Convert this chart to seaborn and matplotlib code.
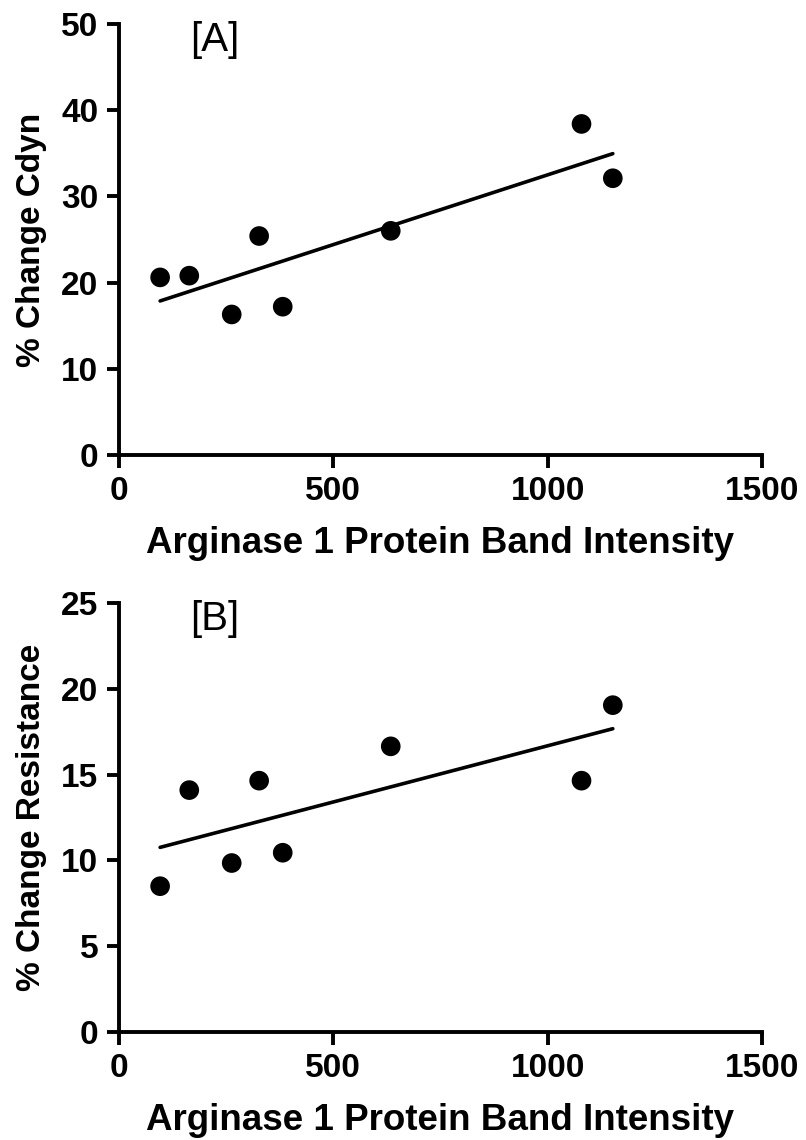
import numpy as np
import pandas as pd
import seaborn as sns
import matplotlib.pyplot as plt

# Arginase 1 band intensity (same samples in both panels)
band_intensity = [96, 164, 263, 327, 382, 634, 1079, 1152]
# Panel A: % change in dynamic compliance
change_cdyn = [20.6, 20.8, 16.3, 25.4, 17.2, 26.0, 38.4, 32.1]
# Panel B: % change in resistance
change_resistance = [8.5, 14.1, 9.85, 14.65, 10.45, 16.65, 14.65, 19.05]

x_ticks = [0, 500, 1000, 1500]
panels = [
    ("[A]", change_cdyn, "% Change Cdyn", [0, 10, 20, 30, 40, 50]),
    ("[B]", change_resistance, "% Change Resistance", [0, 5, 10, 15, 20, 25]),
]

df = pd.DataFrame({"intensity": band_intensity,
                   "cdyn": change_cdyn,
                   "resistance": change_resistance})

sns.set_style("ticks")
plt.rcParams["font.family"] = ["Liberation Sans", "DejaVu Sans"]
plt.rcParams["text.color"] = "black"
plt.rcParams["axes.labelcolor"] = "black"
plt.rcParams["xtick.color"] = "black"
plt.rcParams["ytick.color"] = "black"

fig = plt.figure(figsize=(8.06, 11.4), dpi=100)
ax_a = fig.add_axes([0.1476, 0.6009, 0.7978, 0.3781])
ax_b = fig.add_axes([0.1476, 0.0947, 0.7978, 0.3763])

for ax, col, (tag, vals, ylab, yticks) in zip([ax_a, ax_b], ["cdyn", "resistance"], panels):
    sns.regplot(data=df, x="intensity", y=col, ax=ax, ci=None, truncate=True,
                color="black",
                scatter_kws={"s": 200, "edgecolor": "none", "alpha": 1},
                line_kws={"lw": 2.6})
    ax.set_xlim(0, 1500)
    ax.set_ylim(0, yticks[-1])
    ax.set_xticks(x_ticks)
    ax.set_yticks(yticks)
    for s in ["top", "right"]:
        ax.spines[s].set_visible(False)
    for s in ["left", "bottom"]:
        ax.spines[s].set_linewidth(2.8)
        ax.spines[s].set_color("black")
    ax.tick_params(axis="both", direction="out", length=9, width=2.8,
                   color="black", labelcolor="black", labelsize=24, pad=6)
    for lab in ax.get_xticklabels() + ax.get_yticklabels():
        lab.set_fontweight("bold")
    ax.set_xlabel("Arginase 1 Protein Band Intensity", fontsize=26.5,
                  fontweight="bold", labelpad=14)
    ax.set_ylabel(ylab, fontsize=24, fontweight="bold", labelpad=10)
    ax.text(224, yticks[-1] * 0.962, tag, fontsize=29, ha="center", va="center")

fig.savefig("out.png", dpi=100)
